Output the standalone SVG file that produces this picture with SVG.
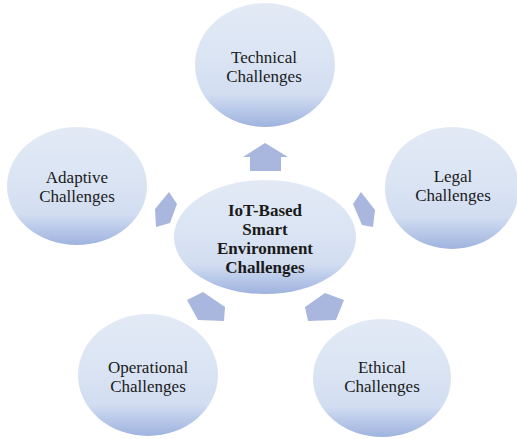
<svg xmlns="http://www.w3.org/2000/svg" width="517" height="439" viewBox="0 0 517 439">
<defs>
<linearGradient id="g" x1="0" y1="0" x2="0" y2="1">
<stop offset="0" stop-color="#e3eaf6"/>
<stop offset="0.45" stop-color="#dae4f3"/>
<stop offset="0.74" stop-color="#d2ddf1"/>
<stop offset="0.86" stop-color="#b9c9e9"/>
<stop offset="1" stop-color="#9fb3de"/>
</linearGradient>
</defs>
<style>
.n{fill:url(#g);}
.t{font-family:"Liberation Serif","Times New Roman",serif;font-size:17px;fill:#1a1a1a;text-anchor:middle;}
.b{font-weight:bold;font-size:17px;}
.a{fill:#a9b7df;}
</style>
<rect width="517" height="439" fill="#ffffff"/>
<g id="connectors">
<polygon class="a" points="265,143 288,157 281,157 281,171 250,171 250,157 243,157"/>
<polygon class="a" points="169,192 177,204 170,223 156,227 155,209"/>
<polygon class="a" points="361,192 375,210 373,227 362,225 353,204"/>
<polygon class="a" points="203,292 225,307 224,321 198,320 187,300"/>
<polygon class="a" points="305,307 325,293 344,300 336,320 308,321"/>
</g>
<g id="technical">
<ellipse class="n" cx="265" cy="65" rx="70" ry="62"/>
<text class="t" x="264" y="63">Technical</text>
<text class="t" x="264" y="82">Challenges</text>
</g>
<g id="adaptive">
<ellipse class="n" cx="77" cy="186" rx="70" ry="59"/>
<text class="t" x="77" y="183">Adaptive</text>
<text class="t" x="77" y="202">Challenges</text>
</g>
<g id="legal">
<ellipse class="n" cx="452" cy="188" rx="67" ry="61"/>
<text class="t" x="453" y="182">Legal</text>
<text class="t" x="453" y="201">Challenges</text>
</g>
<g id="center">
<ellipse class="n" cx="265" cy="237" rx="91" ry="57"/>
<text class="t b" x="265" y="216">IoT-Based</text>
<text class="t b" x="265" y="235">Smart</text>
<text class="t b" x="265" y="254">Environment</text>
<text class="t b" x="265" y="273">Challenges</text>
</g>
<g id="operational">
<ellipse class="n" cx="148" cy="375" rx="70" ry="61"/>
<text class="t" x="148" y="373">Operational</text>
<text class="t" x="148" y="392">Challenges</text>
</g>
<g id="ethical">
<ellipse class="n" cx="382" cy="378" rx="69" ry="59"/>
<text class="t" x="382" y="373">Ethical</text>
<text class="t" x="382" y="392">Challenges</text>
</g>
</svg>
